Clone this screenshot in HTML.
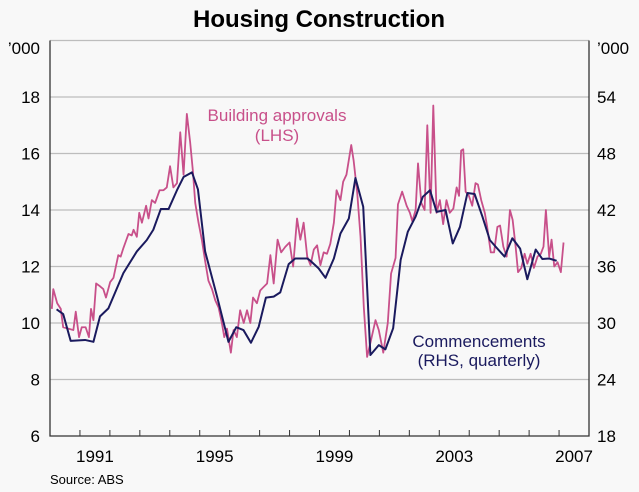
<!DOCTYPE html>
<html><head><meta charset="utf-8"><style>
body{margin:0;background:#f8f8f8;}
svg{display:block;font-family:"Liberation Sans",Arial,sans-serif;}
</style></head><body>
<svg id="chart" width="639" height="492" viewBox="0 0 639 492">
<rect x="0" y="0" width="639" height="492" fill="#f8f8f8"/>
<text x="319" y="27" text-anchor="middle" font-size="24" font-weight="bold" fill="#000">Housing Construction</text>
<g id="grid"></g><g id="axes"></g><g id="series"></g>
<text x="277" y="121" text-anchor="middle" font-size="17" fill="#c8508a">Building approvals</text>
<text x="277" y="141" text-anchor="middle" font-size="17" fill="#c8508a">(LHS)</text>
<text x="479" y="347" text-anchor="middle" font-size="17" fill="#1a1a5e">Commencements</text>
<text x="479" y="366" text-anchor="middle" font-size="17" fill="#1a1a5e">(RHS, quarterly)</text>
<text x="50" y="484" font-size="13" fill="#000">Source: ABS</text>
</svg>
<script>
const leftTicks=[6,8,10,12,14,16,18];
const rightTicks=[18,24,30,36,42,48,54];
const yearLabels=[1991,1995,1999,2003,2007];
const apprDates=[1990.06,1990.11,1990.24,1990.36,1990.44,1990.61,1990.78,1990.86,1990.97,1991.06,1991.19,1991.30,1991.37,1991.45,1991.54,1991.67,1991.78,1991.87,1992.01,1992.12,1992.28,1992.36,1992.45,1992.62,1992.73,1992.79,1992.90,1992.98,1993.07,1993.21,1993.29,1993.40,1993.51,1993.66,1993.79,1993.90,1994.01,1994.12,1994.24,1994.35,1994.46,1994.57,1994.68,1994.77,1994.85,1994.96,1995.07,1995.18,1995.29,1995.41,1995.52,1995.63,1995.74,1995.82,1995.91,1996.04,1996.13,1996.24,1996.35,1996.47,1996.58,1996.69,1996.78,1996.91,1997.02,1997.11,1997.25,1997.36,1997.47,1997.60,1997.72,1997.86,1998.00,1998.12,1998.25,1998.36,1998.47,1998.59,1998.70,1998.81,1998.92,1999.03,1999.14,1999.25,1999.36,1999.48,1999.57,1999.70,1999.79,1999.90,2000.06,2000.14,2000.26,2000.37,2000.48,2000.59,2000.70,2000.87,2000.98,2001.13,2001.28,2001.39,2001.54,2001.62,2001.76,2001.91,2002.02,2002.10,2002.21,2002.29,2002.40,2002.51,2002.60,2002.71,2002.80,2002.91,2003.02,2003.13,2003.24,2003.35,2003.47,2003.58,2003.66,2003.73,2003.80,2003.88,2003.99,2004.10,2004.21,2004.29,2004.40,2004.52,2004.60,2004.72,2004.83,2004.94,2005.03,2005.14,2005.25,2005.36,2005.45,2005.55,2005.63,2005.74,2005.85,2005.94,2006.05,2006.16,2006.28,2006.39,2006.48,2006.56,2006.67,2006.75,2006.84,2006.95,2007.06,2007.15];
const apprValues=[10.5,11.2,10.7,10.5,9.85,9.8,9.75,10.4,9.5,9.85,9.85,9.5,10.5,10.1,11.4,11.3,11.2,10.9,11.45,11.6,12.4,12.35,12.65,13.15,13.1,13.3,13.05,13.9,13.55,14.15,13.7,14.35,14.25,14.7,14.7,14.8,15.55,14.8,14.95,16.75,15.25,17.4,16.4,15.4,14.25,13.55,12.95,12.2,11.5,11.2,10.8,10.55,10.0,9.5,9.8,8.95,9.75,9.5,10.45,10.0,10.45,10.0,10.9,10.7,11.15,11.25,11.4,12.4,11.4,12.95,12.5,12.7,12.85,12.0,13.7,12.95,13.55,12.35,12.05,12.6,12.75,12.05,12.5,12.45,12.8,13.55,14.7,14.35,15.0,15.25,16.3,15.75,14.6,13.05,10.55,8.8,9.3,10.1,9.75,8.95,10.0,11.75,12.3,14.2,14.65,14.15,13.9,13.6,14.0,15.65,14.25,14.0,17.0,13.9,17.7,13.9,14.35,13.5,14.35,13.9,14.05,14.8,14.5,16.1,16.15,14.65,14.5,14.15,14.95,14.9,14.35,13.9,13.4,12.5,12.5,13.4,13.45,12.7,12.35,14.0,13.65,12.7,11.8,11.95,12.45,12.1,12.45,11.95,12.35,12.45,12.7,14.0,12.35,12.95,12.0,12.15,11.8,12.85];
const commDates=[1990.22,1990.44,1990.69,1991.17,1991.45,1991.67,1991.95,1992.17,1992.45,1992.90,1993.23,1993.45,1993.70,1993.96,1994.24,1994.46,1994.74,1994.94,1995.18,1995.58,1995.96,1996.22,1996.46,1996.71,1996.97,1997.21,1997.47,1997.69,1997.97,1998.19,1998.59,1998.70,1998.97,1999.20,1999.48,1999.70,1999.98,2000.20,2000.46,2000.70,2000.98,2001.20,2001.46,2001.71,2001.95,2002.21,2002.45,2002.69,2002.91,2003.21,2003.45,2003.69,2003.94,2004.18,2004.44,2004.69,2004.94,2005.18,2005.44,2005.70,2005.94,2006.22,2006.44,2006.67,2006.92];
const commValues=[31.45,30.95,28.1,28.2,28.0,30.7,31.55,33.2,35.3,37.6,38.8,39.9,42.1,42.1,44.1,45.5,46.0,44.2,37.6,32.8,28.0,29.55,29.25,27.9,29.6,32.7,32.8,33.25,36.25,36.85,36.85,36.6,35.8,34.8,36.85,39.5,41.1,45.4,42.35,26.6,27.65,27.2,29.45,36.7,39.7,41.3,43.4,44.1,41.8,42.0,38.45,40.2,43.8,43.7,41.3,38.8,37.9,37.05,39.0,37.9,34.65,37.8,36.8,36.85,36.6];

const NS="http://www.w3.org/2000/svg";
const L=50,R=589,T=40.5,B=436;
const x=t=>L+(t-1990)*(R-L)/18;
const yL=v=>B-(v-6)*(B-T)/14;
const yR=v=>B-(v-18)*(B-T)/42;
function mk(tag,attrs,parent){const e=document.createElementNS(NS,tag);for(const k in attrs)e.setAttribute(k,attrs[k]);parent.appendChild(e);return e;}
const grid=document.getElementById('grid'),axes=document.getElementById('axes'),series=document.getElementById('series');
leftTicks.concat([20]).forEach((v,i)=>{
  if(v===6)return;
  const g=mk('line',{x1:L,x2:R,y1:yL(v),y2:yL(v),stroke:'#bdbdbd','stroke-width':1.3},grid);
  
  
});
leftTicks.forEach(v=>{
  const t=mk('text',{x:40,y:yL(v)+6,'text-anchor':'end','font-size':17},axes);t.textContent=v;
  
  
});
rightTicks.forEach(v=>{
  const t=mk('text',{x:597,y:yR(v)+6,'font-size':17},axes);t.textContent=v;
  
  
});
const u1=mk('text',{x:40,y:54,'text-anchor':'end','font-size':17},axes);u1.textContent='\u2019000';


const u2=mk('text',{x:597,y:54,'font-size':17},axes);u2.textContent='\u2019000';


yearLabels.forEach(yr=>{
  const t=mk('text',{x:x(yr+0.5),y:462,'text-anchor':'middle','font-size':17},axes);t.textContent=yr;
  
  
});
for(let yr=1991;yr<2008;yr++){
  const tk=mk('line',{x1:x(yr),x2:x(yr),y1:B,y2:B-6,stroke:'#333','stroke-width':1},axes);
  
  
}
const ax=mk('path',{d:`M${L},${T}V${B}H${R}V${T}`,fill:'none',stroke:'#333','stroke-width':1.3},axes);


const pa=mk('polyline',{points:apprDates.map((d,i)=>x(d)+','+yL(apprValues[i])).join(' '),fill:'none',stroke:'#c8508a','stroke-width':1.8,'stroke-linejoin':'round'},series);


const pc=mk('polyline',{points:commDates.map((d,i)=>x(d)+','+yR(commValues[i])).join(' '),fill:'none',stroke:'#1a1a5e','stroke-width':2,'stroke-linejoin':'round'},series);


</script>
</body></html>
